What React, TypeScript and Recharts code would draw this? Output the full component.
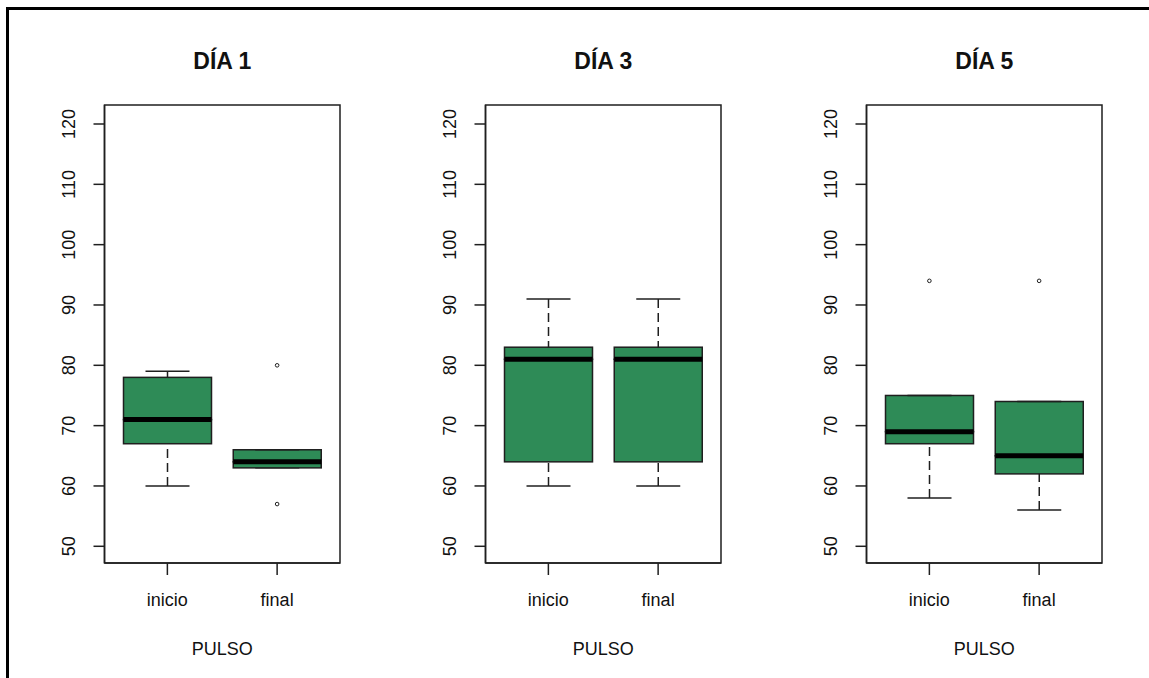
import React from 'react'
import { Bar, ComposedChart, Label, Line, ReferenceArea, XAxis, YAxis } from 'recharts'

const categories = ['inicio', 'final']
const days = ['DÍA 1', 'DÍA 3', 'DÍA 5']
const lowWhisker = [[60, 63], [60, 60], [58, 56]]
const lowerQuartile = [[67, 63], [64, 64], [67, 62]]
const medians = [[71, 64], [81, 81], [69, 65]]
const upperQuartile = [[78, 66], [83, 83], [75, 74]]
const highWhisker = [[79, 66], [91, 91], [75, 74]]
const outliers = [[[], [80, 57]], [[], []], [[94], [94]]]
const yTicks = [50, 60, 70, 80, 90, 100, 110, 120]
const xLabel = 'PULSO'

const GREEN = '#2E8B57'
const INK = '#1f1f1f'
const TEXT = '#111'
const FONT = '"Liberation Sans", Arial, sans-serif'
const Y_DOMAIN = [47.23, 123.15]

const panelData = (d: number) =>
   categories.map((name, i) => ({
      name,
      base: lowWhisker[d][i],
      lowW: lowerQuartile[d][i] - lowWhisker[d][i],
      lowBox: medians[d][i] - lowerQuartile[d][i],
      upBox: upperQuartile[d][i] - medians[d][i],
      upW: highWhisker[d][i] - upperQuartile[d][i],
      out1: outliers[d][i][0] ?? null,
      out2: outliers[d][i][1] ?? null,
   }))

const Empty = () => <g />

// whisker below the box: dashed from min up to q1, staple at min
const LowerWhisker = (p: any) => {
   const { x, y, width, height } = p
   const cx = x + width / 2
   const end = y + height
   return (
      <g>
         {height > 0 && (
            <line x1={cx} y1={end} x2={cx} y2={y} stroke={INK} strokeWidth={1.5} strokeDasharray="9 5" />
         )}
         <line x1={cx - width / 4} x2={cx + width / 4} y1={end} y2={end} stroke={INK} strokeWidth={1.5} />
      </g>
   )
}

const UpperWhisker = (p: any) => {
   const { x, y, width, height } = p
   const cx = x + width / 2
   return (
      <g>
         {height > 0 && (
            <line x1={cx} y1={y} x2={cx} y2={y + height} stroke={INK} strokeWidth={1.5} strokeDasharray="9 5" />
         )}
         <line x1={cx - width / 4} x2={cx + width / 4} y1={y} y2={y} stroke={INK} strokeWidth={1.5} />
      </g>
   )
}

const LowerBox = (p: any) => (
   <rect x={p.x} y={p.y} width={p.width} height={p.height} fill={GREEN} stroke={INK} strokeWidth={1.5} />
)

// upper half of the box, with the median line on its bottom edge
const UpperBox = (p: any) => {
   const { x, y, width, height } = p
   return (
      <g>
         <rect x={x} y={y} width={width} height={height} fill={GREEN} stroke={INK} strokeWidth={1.5} />
         <line x1={x} x2={x + width} y1={y + height} y2={y + height} stroke="#000" strokeWidth={5} />
      </g>
   )
}

const YTick = (p: any) => {
   const { x, y, payload } = p
   return (
      <text
         transform={`translate(${x - 18.3},${y}) rotate(-90)`}
         textAnchor="middle"
         fontSize={18}
         fontFamily={FONT}
         fill={TEXT}
      >
         {payload.value}
      </text>
   )
}

const XTick = (p: any) => {
   const { x, y, payload } = p
   return (
      <text x={x} y={y + 31} textAnchor="middle" fontSize={18} fontFamily={FONT} fill={TEXT}>
         {payload.value}
      </text>
   )
}

const AxisTitle = (p: any) => {
   const vb = p.viewBox
   return (
      <text x={vb.x + vb.width / 2} y={vb.y + 92} textAnchor="middle" fontSize={18} fontFamily={FONT} fill={TEXT}>
         {xLabel}
      </text>
   )
}

const frameLine = { stroke: INK, strokeWidth: 1.5 }

const Panel = ({ d }: { d: number }) => (
   <div style={{ position: 'absolute', left: d * 381, top: 0 }}>
      <div
         style={{
            position: 'absolute',
            left: 104.5,
            width: 235.5,
            top: 50,
            textAlign: 'center',
            fontSize: 23,
            lineHeight: '23px',
            fontWeight: 'bold',
            fontFamily: FONT,
            color: TEXT,
         }}
      >
         {days[d]}
      </div>
      <ComposedChart
         width={381}
         height={678}
         data={panelData(d)}
         margin={{ top: 105, right: 41, bottom: 55, left: 44.5 }}
      >
         <XAxis
            dataKey="name"
            type="category"
            padding={{ left: 8, right: 8 }}
            axisLine={frameLine}
            tickSize={12}
            tickMargin={0}
            tickLine={frameLine}
            tick={<XTick />}
            height={60}
            interval={0}
         >
            <Label content={<AxisTitle />} />
         </XAxis>
         <XAxis
            xAxisId="top"
            orientation="top"
            dataKey="name"
            height={0}
            axisLine={frameLine}
            tick={false}
            tickLine={false}
         />
         <YAxis
            type="number"
            domain={Y_DOMAIN}
            allowDataOverflow
            ticks={yTicks}
            width={60}
            axisLine={frameLine}
            tickSize={11}
            tickMargin={0}
            tickLine={frameLine}
            tick={<YTick />}
         />
         <YAxis
            yAxisId="right"
            orientation="right"
            type="number"
            domain={Y_DOMAIN}
            width={0}
            axisLine={frameLine}
            tick={false}
            tickLine={false}
         />
         <Bar dataKey="base" stackId="b" barSize={88} shape={<Empty />} isAnimationActive={false} />
         <Bar dataKey="lowW" stackId="b" barSize={88} shape={<LowerWhisker />} isAnimationActive={false} />
         <Bar dataKey="lowBox" stackId="b" barSize={88} shape={<LowerBox />} isAnimationActive={false} />
         <Bar dataKey="upBox" stackId="b" barSize={88} shape={<UpperBox />} isAnimationActive={false} />
         <Bar dataKey="upW" stackId="b" barSize={88} shape={<UpperWhisker />} isAnimationActive={false} />
         <Line
            dataKey="out1"
            stroke="none"
            dot={{ r: 1.8, stroke: INK, strokeWidth: 1, fill: '#fff' }}
            activeDot={false}
            isAnimationActive={false}
         />
         <Line
            dataKey="out2"
            stroke="none"
            dot={{ r: 1.8, stroke: INK, strokeWidth: 1, fill: '#fff' }}
            activeDot={false}
            isAnimationActive={false}
         />
         <ReferenceArea
            xAxisId="top"
            x1="inicio"
            x2="final"
            y1={Y_DOMAIN[0]}
            y2={Y_DOMAIN[1]}
            fill="none"
            stroke={INK}
            strokeWidth={1.5}
            ifOverflow="visible"
         />
      </ComposedChart>
   </div>
)

export default function App() {
   return (
      <div style={{ position: 'absolute', left: 0, top: 0, width: 1149, height: 678, background: '#fff', fontFamily: FONT }}>
         <div
            style={{
               position: 'absolute',
               left: 6,
               top: 7,
               width: 1143,
               height: 671,
               boxSizing: 'border-box',
               borderTop: '3px solid #000',
               borderLeft: '3px solid #000',
            }}
         />
         {days.map((_, d) => (
            <Panel key={d} d={d} />
         ))}
      </div>
   )
}
